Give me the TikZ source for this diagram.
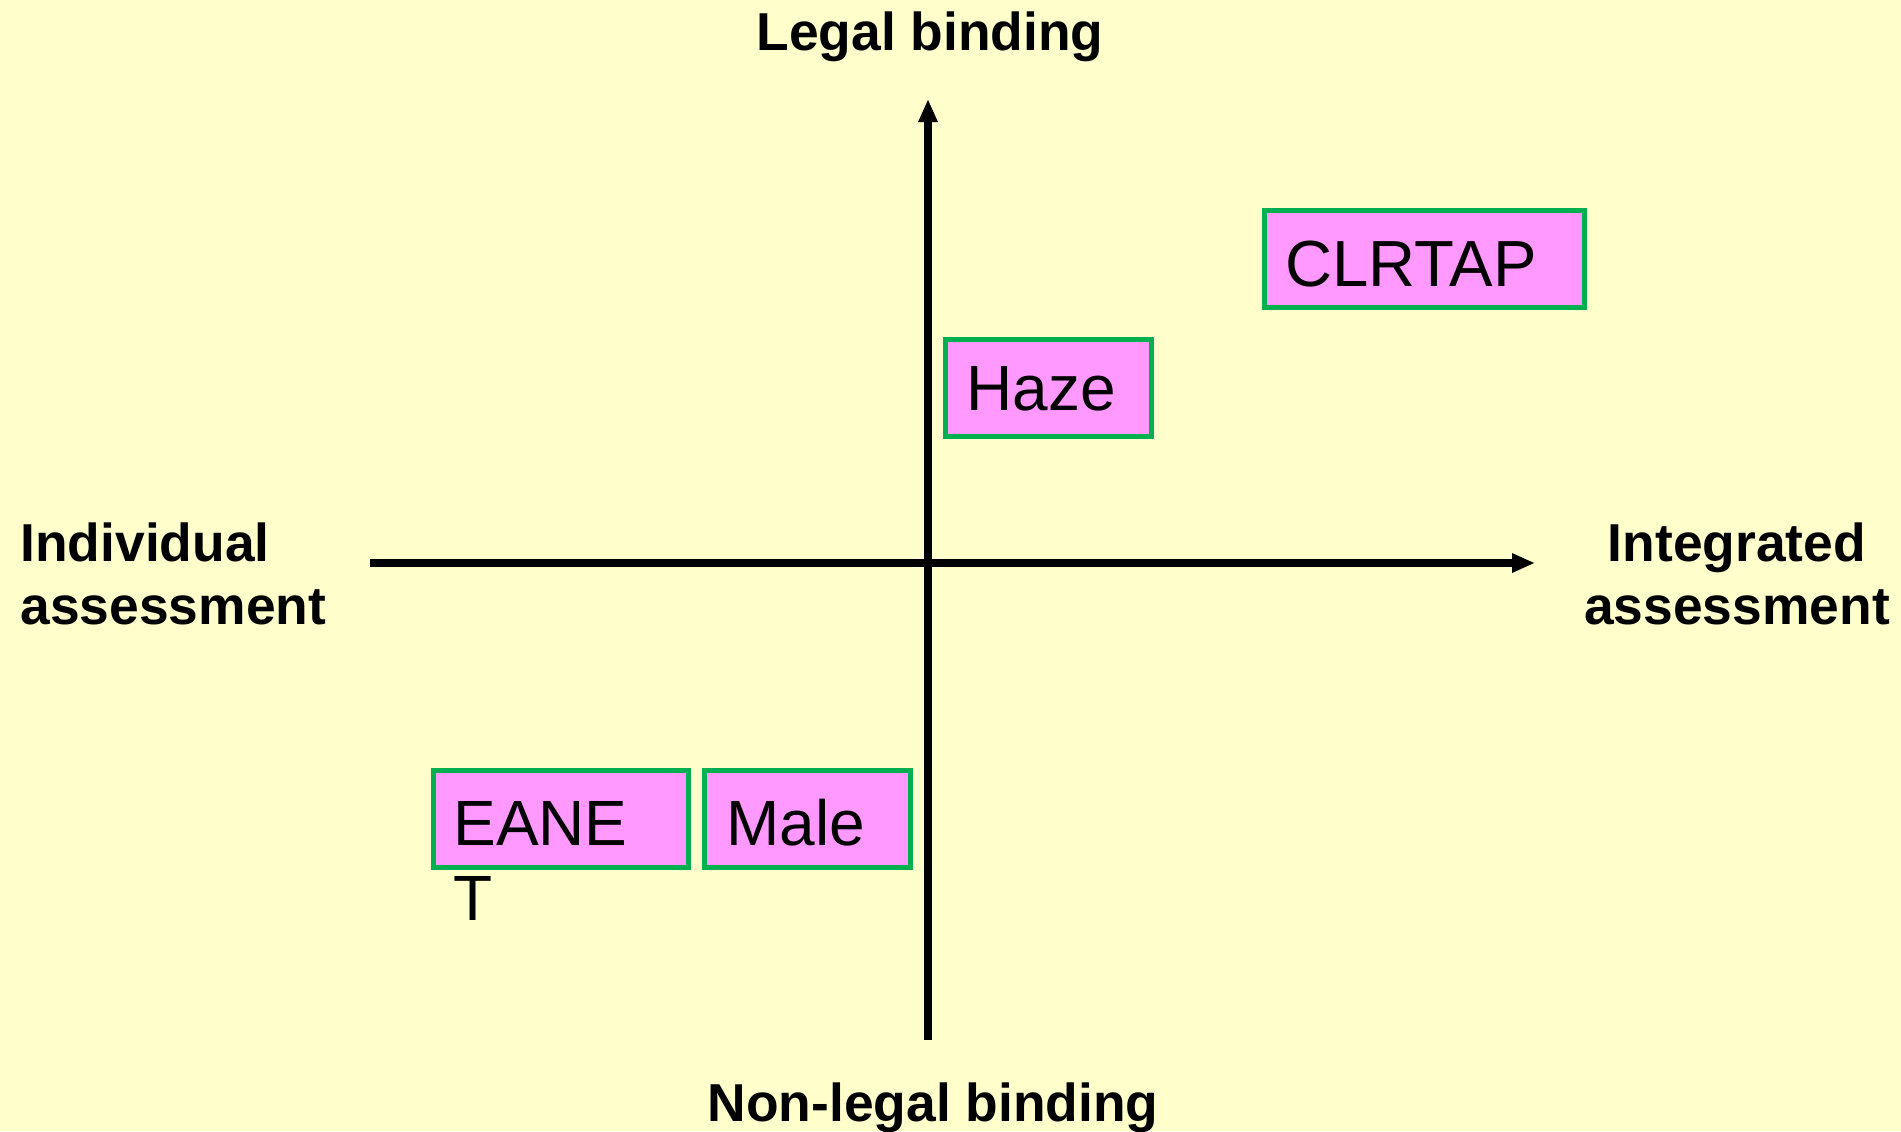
\documentclass[tikz,border=0pt]{standalone}
\usepackage{fontspec}
\setmainfont{Liberation Sans}
\usetikzlibrary{arrows.meta}
\definecolor{bgyellow}{HTML}{FFFFCC}
\definecolor{boxpink}{HTML}{FF99FF}
\definecolor{boxgreen}{HTML}{00B050}
\tikzset{
  itembox/.style={draw=boxgreen, fill=boxpink, line width=2.5pt, rectangle, inner sep=0pt, anchor=north west, minimum height=48.5pt},
  itemtext/.style={anchor=base west, inner sep=0pt, font=\fontsize{32}{37.5}\selectfont, align=left},
  axislabel/.style={inner sep=0pt, font=\fontsize{26.7}{31.3}\selectfont\bfseries},
  axisline/.style={line width=4pt, -{Triangle[length=11.5pt,width=9pt]}}
}
\begin{document}
\begin{tikzpicture}[x=0.5pt,y=-0.5pt]
\fill[bgyellow] (0,0) rectangle (1901,1131);
\useasboundingbox (0,0) rectangle (1901,1131);
% axes
\coordinate (xl) at (370,563);
\coordinate (xr) at (1535,563);
\coordinate (yb) at (928,1040);
\coordinate (yt) at (928,99);
\draw[axisline] (xl) -- (xr);
\draw[axisline] (yb) -- (yt);
% axis labels
\node[axislabel, anchor=base] (legal) at (930,50) {Legal binding};
\node[axislabel, anchor=base] (nonlegal) at (933,1121) {Non-legal binding};
\node[axislabel, anchor=base west, align=left] (indiv) at (20,624) {Individual\\assessment};
\node[axislabel, anchor=base, align=center] (integ) at (1737,624) {Integrated\\assessment};
% boxes
\node[itembox, minimum width=160.3pt] (clrtapbox) at (1261.7,208) {};
\node[itembox, minimum width=103pt] (hazebox) at (943,336.7) {};
\node[itembox, minimum width=127.5pt] (eanebox) at (430.5,768) {};
\node[itembox, minimum width=103pt] (malebox) at (702,768) {};
% box texts
\node[itemtext, font=\fontsize{32.6}{37.5}\selectfont] (clrtap) at (1285,286) {CLRTAP};
\node[itemtext] (haze) at (966,410) {Haze};
\node[itemtext] (eane) at (453,920) {EANE\\T};
\node[itemtext] (male) at (726,845) {Male};
\end{tikzpicture}
\end{document}
